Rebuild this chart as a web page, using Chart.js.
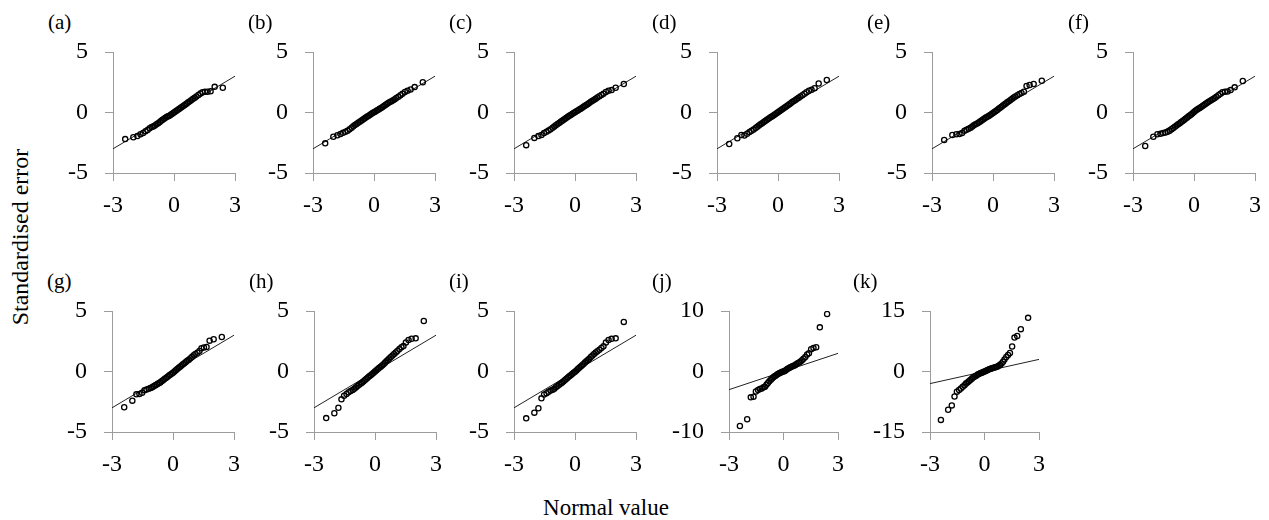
<!DOCTYPE html>
<html>
<head>
<meta charset="utf-8">
<script src="https://cdn.jsdelivr.net/npm/chart.js@4"></script>
<style>
  body { margin: 0; background: #fff; width: 1269px; height: 520px; position: relative; overflow: hidden;
         font-family: 'Liberation Serif', 'Times New Roman', serif; color: #000; }
  canvas { position: absolute; }
  .lab { position: absolute; font-size: 21px; line-height: 21px; }
  #ytitle { position: absolute; font-size: 24px; line-height: 24px; white-space: nowrap;
            left: 20px; top: 237px; transform: translate(-50%, -50%) rotate(-90deg); }
  #xtitle { position: absolute; font-size: 23px; line-height: 23px; white-space: nowrap;
            left: 606px; top: 507px; transform: translate(-50%, -50%); }
</style>
</head>
<body>
<div id="ytitle">Standardised error</div>
<div id="xtitle">Normal value</div>
<script>
// Data
// normal quantiles (x), shared by every panel
const normalQ = [-2.4, -2.0, -1.8, -1.65, -1.52, -1.4, -1.3, -1.2, -1.1, -1.02,
  -0.94, -0.86, -0.78, -0.7, -0.63, -0.56, -0.49, -0.42, -0.35, -0.28,
  -0.21, -0.14, -0.07, 0, 0.07, 0.14, 0.21, 0.28, 0.35, 0.42,
  0.49, 0.56, 0.63, 0.7, 0.78, 0.86, 0.94, 1.02, 1.1, 1.2,
  1.3, 1.4, 1.52, 1.65, 1.8, 2.0, 2.4];

// standardised errors (y), one array per panel
const errA = [-2.2, -2.05, -1.95, -1.8, -1.7, -1.55, -1.45, -1.3, -1.2, -1.15,
  -1.08, -0.98, -0.88, -0.78, -0.68, -0.6, -0.52, -0.44, -0.36, -0.3,
  -0.24, -0.16, -0.08, 0.0, 0.08, 0.16, 0.25, 0.33, 0.42, 0.5,
  0.58, 0.67, 0.75, 0.84, 0.94, 1.04, 1.13, 1.22, 1.32, 1.45,
  1.58, 1.68, 1.72, 1.72, 1.75, 2.12, 2.05];
const errB = [-2.55, -2.0, -1.88, -1.78, -1.68, -1.6, -1.5, -1.38, -1.25, -1.14,
  -1.04, -0.95, -0.85, -0.76, -0.68, -0.6, -0.52, -0.44, -0.36, -0.28,
  -0.2, -0.12, -0.05, 0.02, 0.09, 0.16, 0.23, 0.3, 0.38, 0.46,
  0.54, 0.62, 0.7, 0.78, 0.86, 0.94, 1.02, 1.1, 1.2, 1.3,
  1.42, 1.55, 1.7, 1.8, 1.9, 2.1, 2.5];
const errC = [-2.7, -2.1, -1.95, -1.85, -1.7, -1.6, -1.48, -1.38, -1.25, -1.15,
  -1.05, -0.95, -0.86, -0.76, -0.68, -0.6, -0.52, -0.43, -0.35, -0.27,
  -0.2, -0.12, -0.04, 0.03, 0.1, 0.17, 0.24, 0.31, 0.39, 0.47,
  0.55, 0.63, 0.71, 0.79, 0.88, 0.97, 1.06, 1.14, 1.24, 1.35,
  1.45, 1.55, 1.7, 1.8, 1.85, 2.05, 2.35];
const errD = [-2.6, -2.13, -1.86, -1.9, -1.75, -1.62, -1.5, -1.4, -1.28, -1.18,
  -1.08, -0.98, -0.88, -0.78, -0.7, -0.62, -0.54, -0.46, -0.38, -0.3,
  -0.22, -0.14, -0.06, 0.02, 0.1, 0.18, 0.27, 0.35, 0.44, 0.52,
  0.6, 0.68, 0.77, 0.86, 0.95, 1.04, 1.13, 1.22, 1.32, 1.42,
  1.55, 1.68, 1.8, 1.88, 2.0, 2.4, 2.69];
const errE = [-2.27, -1.86, -1.8, -1.78, -1.7, -1.5, -1.42, -1.35, -1.25, -1.15,
  -1.06, -0.98, -0.9, -0.82, -0.74, -0.66, -0.58, -0.5, -0.42, -0.35,
  -0.28, -0.2, -0.12, -0.05, 0.04, 0.12, 0.21, 0.3, 0.39, 0.48,
  0.57, 0.66, 0.75, 0.84, 0.94, 1.04, 1.14, 1.24, 1.32, 1.42,
  1.52, 1.62, 1.72, 2.19, 2.27, 2.36, 2.63];
const errF = [-2.77, -2.0, -1.8, -1.75, -1.7, -1.66, -1.6, -1.5, -1.38, -1.28,
  -1.18, -1.08, -0.98, -0.88, -0.79, -0.7, -0.61, -0.52, -0.43, -0.34,
  -0.25, -0.16, -0.07, 0.05, 0.14, 0.22, 0.3, 0.38, 0.46, 0.54,
  0.62, 0.7, 0.78, 0.86, 0.95, 1.03, 1.11, 1.2, 1.3, 1.42,
  1.55, 1.68, 1.72, 1.74, 1.85, 2.08, 2.6];
const errG = [-2.96, -2.41, -1.89, -1.86, -1.75, -1.55, -1.48, -1.42, -1.36, -1.3,
  -1.22, -1.14, -1.06, -0.98, -0.9, -0.81, -0.72, -0.63, -0.54, -0.45,
  -0.36, -0.27, -0.18, -0.1, 0.0, 0.1, 0.2, 0.3, 0.4, 0.5,
  0.6, 0.68, 0.78, 0.88, 0.98, 1.1, 1.22, 1.34, 1.45, 1.55,
  1.7, 1.92, 1.98, 2.02, 2.55, 2.66, 2.85];
const errH = [-3.85, -3.45, -3.0, -2.3, -2.0, -1.85, -1.72, -1.62, -1.52, -1.42,
  -1.32, -1.2, -1.1, -1.0, -0.9, -0.8, -0.7, -0.6, -0.5, -0.4,
  -0.3, -0.2, -0.1, 0.0, 0.1, 0.2, 0.3, 0.4, 0.5, 0.6,
  0.72, 0.84, 0.96, 1.08, 1.2, 1.32, 1.45, 1.58, 1.7, 1.85,
  2.0, 2.1, 2.4, 2.6, 2.71, 2.74, 4.17];
const errI = [-3.87, -3.4, -3.04, -2.22, -1.9, -1.8, -1.68, -1.58, -1.5, -1.42,
  -1.3, -1.2, -1.1, -1.0, -0.9, -0.8, -0.7, -0.6, -0.5, -0.4,
  -0.3, -0.2, -0.1, -0.02, 0.08, 0.2, 0.3, 0.42, 0.52, 0.62,
  0.74, 0.84, 0.96, 1.06, 1.2, 1.32, 1.45, 1.58, 1.68, 1.8,
  1.95, 2.08, 2.4, 2.6, 2.7, 2.74, 4.1];
const errJ = [-9.0, -7.9, -4.27, -4.16, -3.3, -3.06, -2.9, -2.8, -2.6, -2.5,
  -2.2, -1.9, -1.6, -1.35, -1.15, -0.95, -0.8, -0.65, -0.5, -0.38,
  -0.25, -0.15, -0.05, 0.0, 0.1, 0.25, 0.4, 0.55, 0.65, 0.75,
  0.85, 0.95, 1.05, 1.2, 1.35, 1.5, 1.65, 1.85, 2.1, 2.4,
  2.8, 3.0, 3.67, 3.9, 4.0, 7.3, 9.5];
const errK = [-12.0, -9.5, -8.4, -6.2, -5.0, -4.6, -4.2, -3.8, -3.4, -3.0,
  -2.7, -2.4, -2.1, -1.8, -1.5, -1.3, -1.1, -0.9, -0.7, -0.55,
  -0.4, -0.3, -0.15, 0.0, 0.15, 0.3, 0.45, 0.6, 0.7, 0.8,
  0.9, 1.0, 1.1, 1.2, 1.4, 1.7, 2.0, 2.4, 3.0, 3.6,
  4.1, 4.6, 6.2, 8.4, 8.8, 10.5, 13.3];

const panelLabels = ['(a)', '(b)', '(c)', '(d)', '(e)', '(f)', '(g)', '(h)', '(i)', '(j)', '(k)'];
const panelErrors = [errA, errB, errC, errD, errE, errF, errG, errH, errI, errJ, errK];
const yLimits = [5, 5, 5, 5, 5, 5, 5, 5, 5, 10, 15];
const xLimit = 3;

// Layout: plot area of each panel in page pixels
const plotBoxes = [
  { l: 113, r: 235, t: 52, b: 173 }, { l: 313, r: 435, t: 52, b: 173 },
  { l: 514, r: 636, t: 52, b: 173 }, { l: 717, r: 839, t: 52, b: 173 },
  { l: 932, r: 1054, t: 52, b: 173 }, { l: 1133, r: 1255, t: 52, b: 173 },
  { l: 112, r: 234, t: 311, b: 432 }, { l: 314, r: 436, t: 311, b: 432 },
  { l: 514, r: 636, t: 311, b: 432 }, { l: 729, r: 838, t: 311, b: 432 },
  { l: 930, r: 1039, t: 311, b: 432 }
];
const labelOffsets = [65, 65, 65, 65, 65, 65, 65, 65, 65, 77, 77];

// padTop / padRight are larger than the tick-label overhangs so the plot area lands exactly
const yW = 70, xH = 45, padTop = 34, padRight = 24;
const axisGrey = '#9c9c9c';
const serif = "'Liberation Serif', 'Times New Roman', serif";
const tickFont = { family: serif, size: 24 };
Chart.defaults.font.family = serif;

function makePanel(i) {
  const box = plotBoxes[i];
  const left = box.l - yW;
  const w = box.r - left + padRight;
  const h = box.b - box.t + padTop + xH;

  const lab = document.createElement('div');
  lab.className = 'lab';
  lab.textContent = panelLabels[i];
  lab.style.left = (box.l - labelOffsets[i]) + 'px';
  lab.style.top = (box.t - 40) + 'px';
  document.body.appendChild(lab);

  const cv = document.createElement('canvas');
  cv.width = w; cv.height = h;
  cv.style.left = left + 'px';
  cv.style.top = (box.t - padTop) + 'px';
  cv.style.width = w + 'px';
  cv.style.height = h + 'px';
  document.body.appendChild(cv);

  const lim = yLimits[i];
  const errs = panelErrors[i];
  new Chart(cv.getContext('2d'), {
    type: 'scatter',
    data: {
      datasets: [
        {
          data: normalQ.map((q, k) => ({ x: q, y: errs[k] })),
          pointStyle: 'circle',
          pointRadius: 2.6,
          borderColor: '#000',
          borderWidth: 1.3,
          backgroundColor: 'rgba(0,0,0,0)'
        },
        {
          type: 'line',
          data: [{ x: -xLimit, y: -xLimit }, { x: xLimit, y: xLimit }],
          borderColor: '#222',
          borderWidth: 1,
          pointRadius: 0,
          fill: false
        }
      ]
    },
    options: {
      responsive: false,
      animation: false,
      layout: { padding: { top: padTop, right: padRight, left: 0, bottom: 0 } },
      plugins: { legend: { display: false }, tooltip: { enabled: false } },
      scales: {
        x: {
          type: 'linear', min: -xLimit, max: xLimit,
          afterFit: s => { s.height = xH; },
          ticks: { stepSize: xLimit, padding: 10, font: tickFont, color: '#000', maxRotation: 0 },
          grid: { drawOnChartArea: false, drawTicks: true, tickLength: 8, color: axisGrey },
          border: { display: true, color: axisGrey, width: 1 }
        },
        y: {
          type: 'linear', min: -lim, max: lim,
          afterFit: s => { s.width = yW; },
          ticks: { stepSize: lim, padding: 17, font: tickFont, color: '#000' },
          grid: { drawOnChartArea: false, drawTicks: true, tickLength: 8, color: axisGrey },
          border: { display: true, color: axisGrey, width: 1 }
        }
      }
    }
  });
}

function drawAll() {
  for (let i = 0; i < plotBoxes.length; i++) makePanel(i);
}

// make sure the serif face is ready before the canvases draw their tick labels
if (document.fonts && document.fonts.load) {
  document.fonts.load("24px 'Liberation Serif'").then(drawAll, drawAll);
} else {
  drawAll();
}
</script>
</body>
</html>
